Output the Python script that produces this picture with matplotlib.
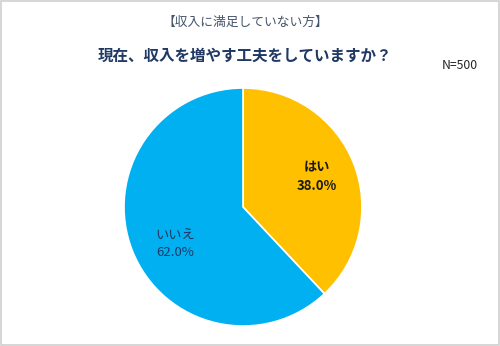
import matplotlib.pyplot as plt
from matplotlib.patches import Rectangle

plt.rcParams['font.family'] = ['Noto Sans CJK JP', 'DejaVu Sans']

# answers and shares (%)
labels = ['はい', 'いいえ']
shares = [38.0, 62.0]
colors = ['#FFC000', '#00B0F0']
# label anchor points inside each wedge (data coords, radius = 1)
label_pos = [(0.62, 0.26), (-0.57, -0.31)]
label_colors = ['#1a1a1a', '#1F3864']
label_weights = ['bold', 'normal']

subtitle = '【収入に満足していない方】'
title = '現在、収入を増やす工夫をしていますか？'
n_note = 'N=500'

fig = plt.figure(figsize=(5.0, 3.46), dpi=100)
fig.patch.set_facecolor('white')

ax = fig.add_axes([0.248, 0.0577, 0.476, 0.688])
ax.pie(shares, colors=colors, startangle=90, counterclock=False,
       wedgeprops=dict(edgecolor='white', linewidth=1.2))
ax.set_xlim(-1, 1)
ax.set_ylim(-1, 1)
ax.set_aspect('equal')
ax.axis('off')

for lab, val, (x, y), c, w in zip(labels, shares, label_pos, label_colors, label_weights):
    ax.text(x, y, f'{lab}\n{val:.1f}%', ha='center', va='center', fontsize=9.5,
            color=c, fontweight=w, linespacing=1.45)

fig.text(0.49, 0.935, subtitle, ha='center', va='center', fontsize=9.2, color='#44546A')
fig.text(0.49, 0.84, title, ha='center', va='center', fontsize=11.2,
         fontweight='bold', color='#1F3864')
fig.text(0.92, 0.81, n_note, ha='center', va='center', fontsize=8.8, color='#262626')

fig.patches.append(Rectangle((0.002, 0.003), 0.996, 0.994, transform=fig.transFigure,
                             fill=False, edgecolor='#D0D0D0', linewidth=1.2))

fig.savefig('out.png', dpi=100)
